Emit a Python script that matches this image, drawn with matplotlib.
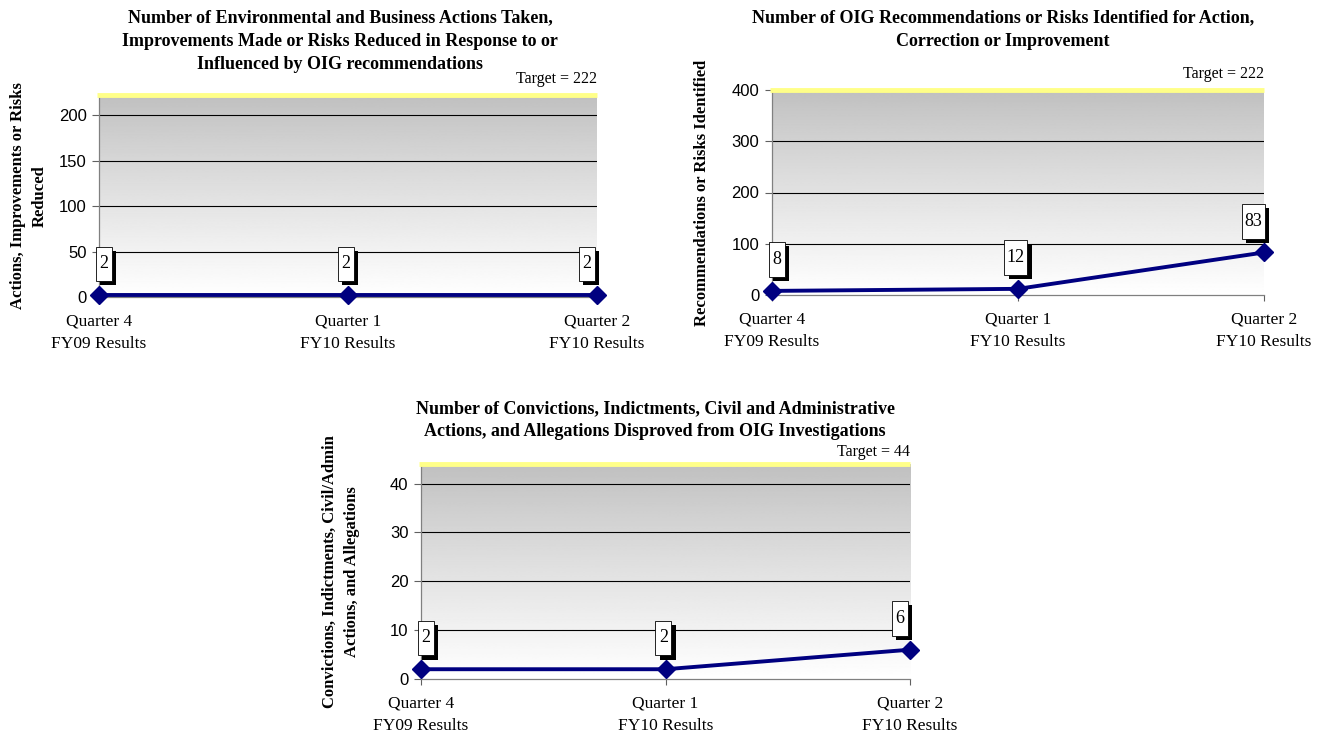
import numpy as np
import matplotlib
matplotlib.use('Agg')
from matplotlib import pyplot as plt
from matplotlib.offsetbox import DrawingArea, AnnotationBbox
from matplotlib.patches import Rectangle
from matplotlib.text import Text

# categories shared by all three charts
quarters = ['Quarter 4\nFY09 Results', 'Quarter 1\nFY10 Results', 'Quarter 2\nFY10 Results']

# chart 1: actions / improvements / risks reduced
actions_values = [2, 2, 2]
actions_target = 222
actions_ticks = [0, 50, 100, 150, 200]

# chart 2: recommendations or risks identified
recs_values = [8, 12, 83]
recs_target = 222
recs_ymax = 400
recs_ticks = [0, 100, 200, 300, 400]

# chart 3: convictions, indictments, civil/admin actions, allegations
conv_values = [2, 2, 6]
conv_target = 44
conv_ticks = [0, 10, 20, 30, 40]

SERIF = 'Liberation Serif'
SANS = 'Liberation Sans'
NAVY = '#000080'

fig = plt.figure(figsize=(13.23, 7.4), dpi=100)


def value_box(ax, x, y, label, dx):
    w = 11.5 if len(label) == 1 else 16.5
    h = 25
    s = 3
    da = DrawingArea(w + s, h + s, 0, 0)
    da.add_artist(Rectangle((s, 0), w, h, facecolor='black', edgecolor='black', lw=0))
    da.add_artist(Rectangle((0, s), w, h, facecolor='white', edgecolor='black', lw=0.6))
    da.add_artist(Text(w / 2, s + h / 2, label, ha='center', va='center',
                       fontsize=13, family=SERIF))
    ab = AnnotationBbox(da, (x, y), xybox=(dx, 21), xycoords='data',
                        boxcoords='offset points', frameon=False,
                        annotation_clip=False, pad=0)
    ab.set_zorder(6)
    ax.add_artist(ab)


def make_chart(rect, values, ymax, ticks, target_text, title, ylabel, ylabel_x,
               title_x, title_y, target_y=1.04):
    ax = fig.add_axes(rect)
    x = np.arange(len(values))

    # gray (top) to white (bottom) gradient background
    t = np.linspace(0, 1, 256) ** 0.9
    grad = (0.75 + 0.25 * t).reshape(-1, 1)
    ax.imshow(grad, cmap='gray', vmin=0, vmax=1,
              extent=(0, len(values) - 1, 0, ymax), aspect='auto',
              origin='upper', zorder=0)
    ax.set_xlim(0, len(values) - 1)
    ax.set_ylim(0, ymax)

    for tk in ticks[1:]:
        ax.axhline(tk, color='black', lw=0.8, zorder=1)

    ax.plot([-0.004, 1.0], [1, 1], transform=ax.transAxes, color='#ffff88',
            lw=3.5, clip_on=False, zorder=3, solid_capstyle='butt')

    ax.plot(x, values, color=NAVY, lw=2.8, marker='D', markersize=9,
            clip_on=False, zorder=5)

    dxs = [5, 0, -6]
    for xi, v, dx in zip(x, values, dxs):
        value_box(ax, xi, v, str(v), dx)

    for side in ['top', 'right']:
        ax.spines[side].set_visible(False)
    for side in ['left', 'bottom']:
        ax.spines[side].set_color('#808080')
        ax.spines[side].set_linewidth(0.9)

    ax.set_yticks(ticks)
    ax.set_yticklabels([str(tk) for tk in ticks], family=SANS, fontsize=12)
    ax.set_xticks(x)
    ax.set_xticklabels(quarters, family=SERIF, fontsize=12.5, linespacing=1.55)
    ax.tick_params(axis='y', length=5, color='#606060', pad=4)
    ax.tick_params(axis='x', length=4, color='#606060', pad=8)

    ax.text(1.0, target_y, target_text, transform=ax.transAxes, ha='right',
            va='bottom', family=SERIF, fontsize=11.5)

    fig.text(title_x, title_y, title, ha='center', va='top', family=SERIF,
             fontweight='bold', fontsize=13, linespacing=1.5)

    ax.set_ylabel(ylabel, family=SERIF, fontweight='bold', fontsize=12,
                  linespacing=1.5)
    ax.yaxis.set_label_coords(ylabel_x, 0.5)
    return ax


make_chart([99 / 1323, 1 - 297 / 740, 498 / 1323, 202 / 740],
           actions_values, actions_target, actions_ticks, 'Target = 222',
           'Number of Environmental and Business Actions Taken,\n'
           'Improvements Made or Risks Reduced in Response to or\n'
           'Influenced by OIG recommendations',
           'Actions, Improvements or Risks\nReduced', -0.102,
           340 / 1323, 1 - 9 / 740)

make_chart([772 / 1323, 1 - 295 / 740, 492 / 1323, 205 / 740],
           recs_values, recs_ymax, recs_ticks, 'Target = 222',
           'Number of OIG Recommendations or Risks Identified for Action,\n'
           'Correction or Improvement',
           'Recommendations or Risks Identified', -0.126,
           1003 / 1323, 1 - 9 / 740)

make_chart([421 / 1323, 1 - 679 / 740, 489 / 1323, 215 / 740],
           conv_values, conv_target, conv_ticks, 'Target = 44',
           'Number of Convictions, Indictments, Civil and Administrative\n'
           'Actions, and Allegations Disproved from OIG Investigations',
           'Convictions, Indictments, Civil/Admin\nActions, and Allegations', -0.125,
           655 / 1323, 1 - 400 / 740, target_y=1.02)

fig.savefig('out.png', dpi=100, facecolor='white')
